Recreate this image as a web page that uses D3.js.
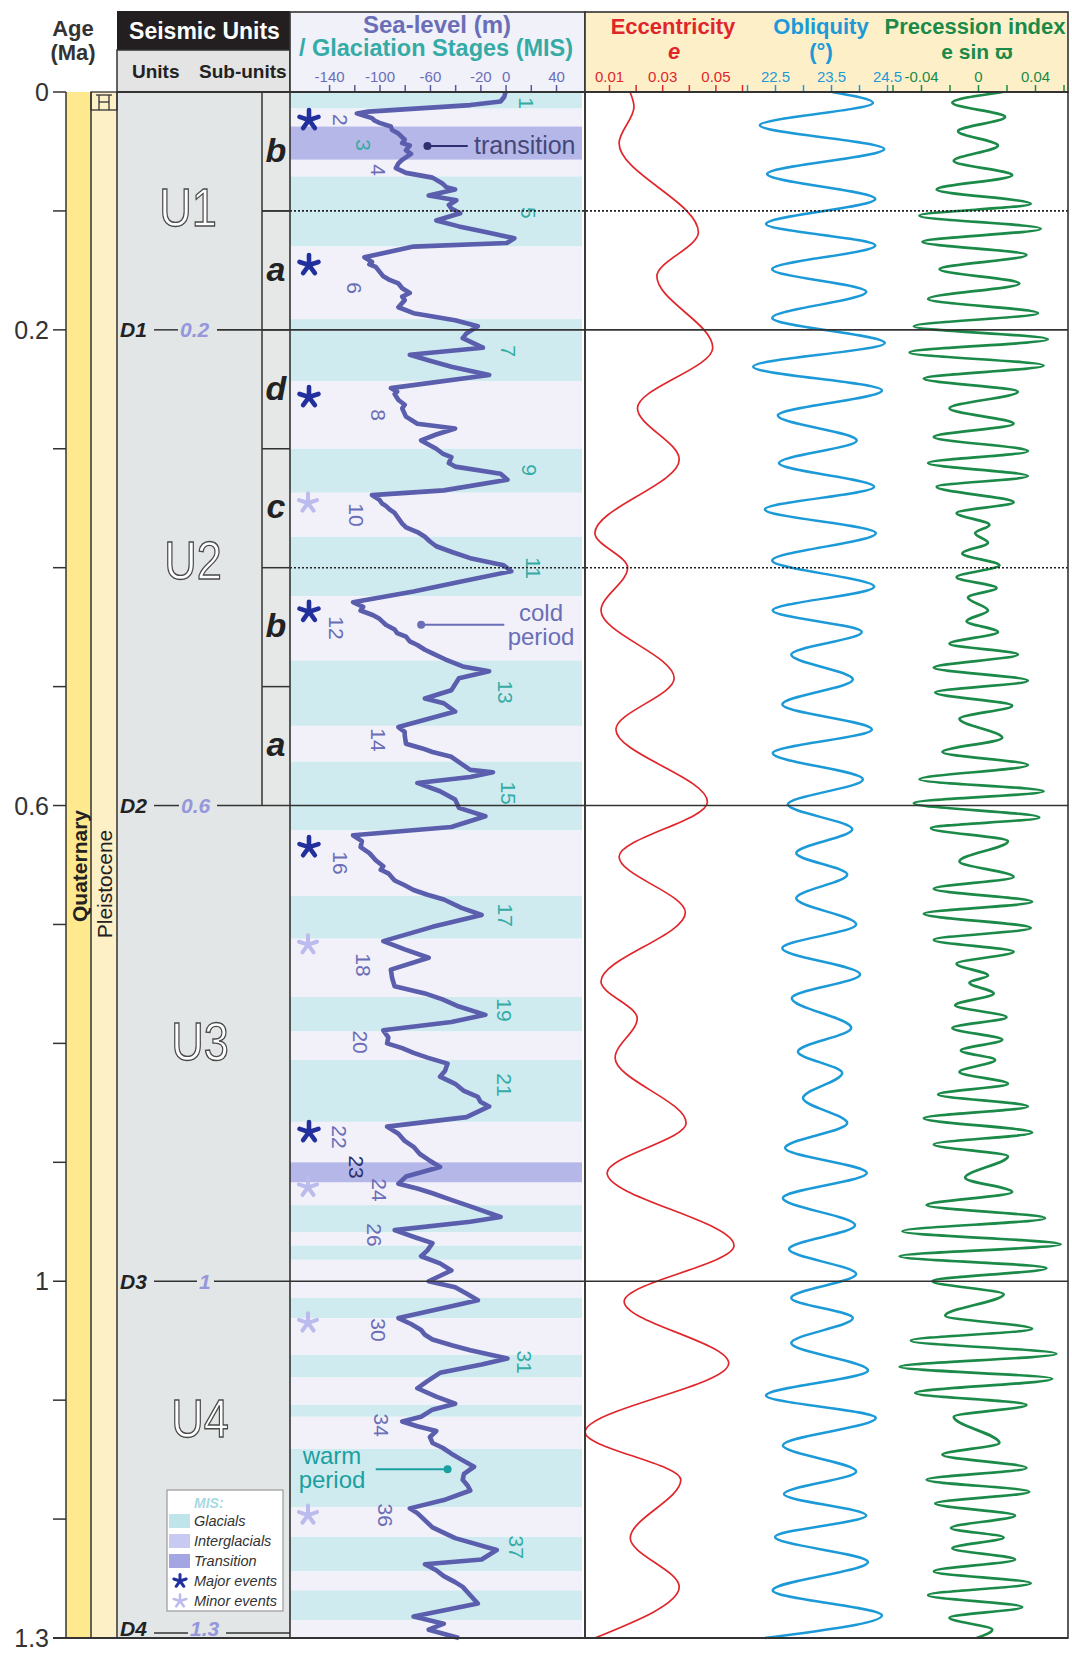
<!DOCTYPE html>
<html><head><meta charset="utf-8">
<script src="https://cdn.jsdelivr.net/npm/d3@7"></script>
<style>
body{margin:0;background:#fff}
svg text{font-family:"Liberation Sans",Arial,"DejaVu Sans",sans-serif}
</style></head>
<body><svg id="c" width="1072" height="1656"></svg>
<script>
// ---------------- DATA ----------------
const ageTicks = d3.range(0, 1.3001, 0.1);
const ageLabels = [0, 0.2, 0.6, 1, 1.3];
const units = ["U1", "U2", "U3", "U4"];
const unitTop = [0, 0.2, 0.6, 1.0];
const unitBase = [0.2, 0.6, 1.0, 1.3];
const subUnits = ["b", "a", "d", "c", "b", "a"];
const subTop = [0, 0.1, 0.2, 0.3, 0.4, 0.5];
const subBase = [0.1, 0.2, 0.3, 0.4, 0.5, 0.6];
const discNames = ["D1", "D2", "D3", "D4"];
const discAges = [0.2, 0.6, 1, 1.3];
const dottedAges = [0.1, 0.4];
// Marine isotope stages (start, ka)
const misStage = d3.range(1, 41);
const misStart = [0,14,29,57,71,130,191,243,300,337,374,424,478,533,563,621,676,712,761,790,814,866,900,917,936,959,970,982,1014,1031,1062,1081,1104,1114,1141,1190,1215,1244,1260,1285];
const misEndLast = 1300;
const transitionStages = [3, 23];
// MIS labels: [label, age (Ma), sea-level position (m)]
const misLabels = [["1",0.0093,17],["2",0.0235,-131],["3",0.0446,-113],["4",0.0656,-101],["5",0.1017,18.5],["6",0.1648,-120],["7",0.2178,2],["8",0.2716,-101],["9",0.3179,19],["10",0.3557,-118],["11",0.4003,22.5],["12",0.4507,-134],["13",0.5046,0],["14",0.5449,-101],["15",0.5895,2],["16",0.6483,-131],["17",0.6921,0],["18",0.7341,-113],["19",0.7719,-1],["20",0.7989,-115],["21",0.835,-1],["22",0.8787,-132],["23",0.904,-118],["24",0.9233,-100],["26",0.9611,-104],["30",1.041,-101],["31",1.068,15],["34",1.121,-98],["36",1.1967,-95],["37",1.2236,9]];
const majorEvents = [0.0235, 0.1455, 0.2565, 0.437, 0.635, 0.8745];
const minorEvents = [0.3456, 0.717, 0.921, 1.035, 1.1966];
// Sea level curve [age Ma, m]
const seaLevelCurve = [[0,0],[0.004,-1],[0.008,-4],[0.011,-28],[0.0165,-109],[0.018,-118],[0.020,-112],[0.022,-106],[0.024,-104],[0.026,-100],[0.029,-91],[0.032,-90],[0.035,-85],[0.040,-80],[0.043,-82],[0.045,-76],[0.049,-79],[0.052,-75],[0.057,-82],[0.060,-85],[0.064,-87],[0.068,-79],[0.072,-58],[0.077,-50],[0.080,-47],[0.082,-40],[0.087,-61],[0.091,-39],[0.095,-45],[0.098,-43],[0.102,-36],[0.108,-55],[0.113,-37],[0.118,-15],[0.123,7],[0.127,1],[0.130,-73],[0.139,-112],[0.143,-106],[0.145,-108],[0.147,-103],[0.151,-100],[0.155,-97],[0.158,-92],[0.161,-85],[0.165,-82],[0.169,-76],[0.172,-82],[0.175,-80],[0.181,-85],[0.186,-73],[0.192,-40],[0.197,-22],[0.203,-31],[0.207,-34],[0.215,-18],[0.221,-76],[0.226,-60],[0.231,-43],[0.238,-13],[0.249,-91],[0.252,-86],[0.254,-88],[0.259,-85],[0.263,-80],[0.266,-82],[0.273,-79],[0.279,-70],[0.283,-40],[0.288,-55],[0.293,-67],[0.300,-55],[0.304,-50],[0.307,-43],[0.312,-45],[0.315,-40],[0.321,-4],[0.326,1.5],[0.335,-49],[0.339,-106],[0.343,-100],[0.346,-98],[0.348,-95],[0.351,-92],[0.354,-88],[0.360,-84],[0.363,-82],[0.366,-79],[0.370,-70],[0.374,-64],[0.378,-60],[0.382,-55],[0.387,-42],[0.392,-28],[0.398,-1.5],[0.403,4.5],[0.412,-37],[0.420,-73],[0.429,-121],[0.433,-113],[0.436,-115],[0.440,-105],[0.443,-100],[0.446,-97],[0.448,-95],[0.452,-88],[0.455,-86],[0.458,-79],[0.462,-76],[0.465,-70],[0.469,-64],[0.472,-58],[0.477,-48],[0.483,-34],[0.487,-13],[0.493,-37],[0.498,-40],[0.503,-43],[0.510,-64],[0.514,-49],[0.521,-40],[0.534,-85],[0.538,-80],[0.541,-80],[0.548,-79],[0.552,-66],[0.555,-58],[0.559,-43],[0.565,-35],[0.570,-28],[0.572,-10],[0.576,-28],[0.581,-70],[0.588,-52],[0.595,-40],[0.602,-37],[0.609,-16],[0.618,-43],[0.625,-121],[0.630,-114],[0.635,-115],[0.640,-108],[0.646,-103],[0.651,-97],[0.654,-99],[0.657,-93],[0.663,-88],[0.667,-80],[0.671,-73],[0.675,-62],[0.679,-49],[0.686,-35],[0.692,-19],[0.702,-58],[0.714,-97],[0.721,-80],[0.728,-61],[0.738,-91],[0.745,-90],[0.752,-88],[0.758,-64],[0.763,-50],[0.769,-37],[0.776,-16],[0.782,-43],[0.789,-97],[0.795,-93],[0.800,-94],[0.804,-82],[0.808,-73],[0.812,-62],[0.817,-46],[0.823,-48],[0.828,-52],[0.834,-40],[0.840,-33],[0.845,-22],[0.849,-20],[0.853,-13],[0.862,-31],[0.870,-94],[0.876,-85],[0.882,-80],[0.887,-73],[0.893,-68],[0.898,-61],[0.904,-52],[0.912,-79],[0.918,-85],[0.922,-70],[0.926,-58],[0.932,-42],[0.937,-28],[0.946,-4],[0.950,-28],[0.957,-88],[0.963,-72],[0.968,-58],[0.974,-62],[0.979,-67],[0.985,-52],[0.991,-43],[1.000,-61],[1.005,-40],[1.011,-30],[1.016,-22],[1.021,-43],[1.031,-85],[1.036,-75],[1.041,-67],[1.045,-64],[1.049,-58],[1.054,-42],[1.058,-28],[1.065,1.5],[1.070,-19],[1.077,-52],[1.084,-62],[1.090,-70],[1.097,-55],[1.103,-40],[1.108,-58],[1.114,-67],[1.118,-82],[1.122,-70],[1.126,-55],[1.131,-60],[1.136,-58],[1.140,-50],[1.145,-43],[1.150,-35],[1.156,-25],[1.162,-33],[1.167,-34],[1.172,-30],[1.176,-28],[1.184,-49],[1.191,-76],[1.195,-70],[1.198,-67],[1.203,-62],[1.207,-58],[1.212,-48],[1.216,-40],[1.226,-7],[1.234,-19],[1.238,-64],[1.243,-55],[1.248,-49],[1.253,-40],[1.257,-34],[1.264,-28],[1.271,-22],[1.282,-73],[1.288,-49],[1.293,-61],[1.300,-37]];
// Orbital parameters [age Ma, value]
const eccentricity = [[0,0.0179],[0.0125,0.0194],[0.043,0.0138],[0.118,0.0436],[0.155,0.028],[0.215,0.049],[0.266,0.0207],[0.309,0.0364],[0.371,0.0047],[0.400,0.017],[0.436,0.007],[0.493,0.0345],[0.536,0.0126],[0.597,0.047],[0.643,0.0138],[0.690,0.0387],[0.748,0.007],[0.779,0.0206],[0.812,0.0123],[0.867,0.039],[0.909,0.0093],[0.970,0.057],[1.017,0.0157],[1.069,0.055],[1.127,0.001],[1.167,0.037],[1.216,0.018],[1.257,0.0364],[1.300,0.0047]];
const obliquity = [[0,23.52],[0.009,24.25],[0.028,22.23],[0.048,24.45],[0.069,22.36],[0.090,24.29],[0.111,22.34],[0.129,24.29],[0.149,22.45],[0.168,24.13],[0.190,22.45],[0.211,24.46],[0.231,22.11],[0.251,24.41],[0.272,22.55],[0.293,23.96],[0.312,22.57],[0.332,24.27],[0.351,22.32],[0.371,24.30],[0.394,22.45],[0.416,24.27],[0.436,22.46],[0.454,24.05],[0.473,22.79],[0.494,23.89],[0.515,22.63],[0.536,24.23],[0.556,22.46],[0.578,24.07],[0.599,22.73],[0.620,23.88],[0.640,22.88],[0.658,23.79],[0.678,22.88],[0.700,23.95],[0.720,22.63],[0.742,24.02],[0.762,22.80],[0.787,23.86],[0.807,22.91],[0.825,23.70],[0.846,23.00],[0.867,23.79],[0.888,22.68],[0.909,24.14],[0.930,22.64],[0.953,23.93],[0.973,22.75],[0.994,23.95],[1.014,22.79],[1.031,23.89],[1.052,22.79],[1.075,24.16],[1.096,22.34],[1.115,24.30],[1.138,22.64],[1.160,23.95],[1.179,22.66],[1.197,24.13],[1.215,22.50],[1.236,24.16],[1.260,22.46],[1.281,24.41],[1.300,22.32]];
const precession = [[0,0.0175],[0.009,-0.018],[0.021,0.019],[0.033,-0.014],[0.045,0.014],[0.058,-0.017],[0.070,0.024],[0.082,-0.029],[0.094,0.037],[0.104,-0.041],[0.115,0.044],[0.126,-0.039],[0.137,0.034],[0.149,-0.027],[0.161,0.029],[0.174,-0.035],[0.186,0.042],[0.197,-0.045],[0.208,0.049],[0.219,-0.048],[0.230,0.046],[0.241,-0.038],[0.252,0.028],[0.266,-0.020],[0.279,0.025],[0.290,-0.031],[0.302,0.035],[0.312,-0.035],[0.323,0.035],[0.332,-0.029],[0.345,0.025],[0.354,-0.015],[0.364,0.008],[0.371,-0.002],[0.379,0.007],[0.388,-0.011],[0.398,0.015],[0.408,-0.015],[0.417,0.013],[0.425,-0.007],[0.436,0.007],[0.445,-0.008],[0.454,0.014],[0.464,-0.020],[0.473,0.028],[0.484,-0.031],[0.495,0.035],[0.505,-0.030],[0.516,0.024],[0.527,-0.013],[0.543,0.017],[0.555,-0.025],[0.566,0.035],[0.578,-0.041],[0.588,0.046],[0.598,-0.045],[0.610,0.043],[0.619,-0.033],[0.630,0.021],[0.647,-0.013],[0.660,0.025],[0.670,-0.031],[0.681,0.038],[0.691,-0.038],[0.703,0.037],[0.713,-0.031],[0.723,0.025],[0.733,-0.015],[0.743,0.007],[0.749,-0.006],[0.758,0.011],[0.768,-0.016],[0.778,0.020],[0.787,-0.018],[0.797,0.017],[0.806,-0.012],[0.814,0.012],[0.824,-0.013],[0.834,0.021],[0.843,-0.028],[0.853,0.035],[0.863,-0.038],[0.875,0.038],[0.885,-0.031],[0.895,0.021],[0.913,-0.009],[0.925,0.024],[0.936,-0.036],[0.947,0.047],[0.958,-0.053],[0.969,0.058],[0.979,-0.055],[0.989,0.048],[1.000,-0.032],[1.011,0.018],[1.029,-0.023],[1.040,0.038],[1.050,-0.047],[1.061,0.055],[1.072,-0.055],[1.082,0.052],[1.094,-0.044],[1.104,0.034],[1.114,-0.017],[1.136,0.015],[1.146,-0.025],[1.157,0.034],[1.167,-0.036],[1.177,0.036],[1.187,-0.030],[1.197,0.026],[1.2075,-0.019],[1.2155,0.018],[1.2245,-0.018],[1.234,0.026],[1.244,-0.031],[1.254,0.037],[1.264,-0.035],[1.274,0.031],[1.283,-0.020],[1.293,0.010],[1.300,-0.001]];
const seaTicks = d3.range(-140, 41, 20);
const seaTickLabels = [-140, -100, -60, -20, 0, 40];
const eccTicks = [0.01,0.02,0.03,0.04,0.05,0.06];
const eccTickLabels = [0.01, 0.03, 0.05];
const oblTicks = [22,22.5,23,23.5,24,24.5];
const oblTickLabels = [22.5, 23.5, 24.5];
const preTicks = [-0.06,-0.04,-0.02,0,0.02,0.04,0.06];
const preTickLabels = [-0.04, 0, 0.04];
const legendItems = ["Glacials", "Interglacials", "Transition", "Major events", "Minor events"];

// ---------------- COLORS ----------------
const C = {
  yellow:"#FFE98F", cream:"#FDEFC6", unitGrey:"#E3E6E7", subGrey:"#E6E7E7",
  glacial:"#CFEBEF", inter:"#F2F1FA", trans:"#B5B7E8",
  slate:"#6A6EB6", teal:"#35ABA6", seaLine:"#5A5EAD",
  red:"#E0262B", blue:"#1C9AD8", green:"#1B8A48",
  major:"#22309E", minor:"#BBBBEE", line:"#333"
};

// ---------------- SCALES ----------------
const svg = d3.select("#c");
const TOP = 92, BOT = 1638;
const y = d3.scaleLinear().domain([0, 1.3]).range([TOP, BOT]);
const X = {ageR:66, yL:66, yR:91, pR:117, uR:262, sL:290, sR:585, oR:1068};
const xSea = d3.scaleLinear().domain([-171, 63]).range([X.sL, X.sR]);
const xEcc = d3.scaleLinear().domain([0.01, 0.06]).range([609, 742]);
const xObl = d3.scaleLinear().domain([22.5, 24.5]).range([775, 887]);
const xPre = d3.scaleLinear().domain([-0.04, 0.04]).range([921, 1035]);

// ---------------- LEFT COLUMNS ----------------
svg.append("rect").attr("x",X.yL).attr("y",TOP).attr("width",X.yR-X.yL).attr("height",BOT-TOP).attr("fill",C.yellow);
svg.append("rect").attr("x",X.yR).attr("y",TOP).attr("width",X.pR-X.yR).attr("height",BOT-TOP).attr("fill",C.cream);
svg.append("rect").attr("x",X.pR).attr("y",TOP).attr("width",X.sL-X.pR).attr("height",BOT-TOP).attr("fill",C.unitGrey);
svg.append("rect").attr("x",X.uR).attr("y",TOP).attr("width",X.sL-X.uR).attr("height",y(0.6)-TOP).attr("fill",C.subGrey);
[X.yL, X.yR, X.pR].forEach(x=>svg.append("line").attr("x1",x).attr("x2",x).attr("y1",TOP).attr("y2",BOT).attr("stroke",C.line).attr("stroke-width",1.5));
svg.append("line").attr("x1",X.uR).attr("x2",X.uR).attr("y1",TOP).attr("y2",y(0.6)).attr("stroke",C.line).attr("stroke-width",1.5);
// Holocene box
const hb = svg.append("g").attr("stroke",C.line).attr("stroke-width",1.3).attr("fill","none");
hb.append("rect").attr("x",X.yR).attr("y",TOP).attr("width",X.pR-X.yR).attr("height",18);
hb.append("line").attr("x1",99).attr("x2",99).attr("y1",TOP+3).attr("y2",TOP+18);
hb.append("line").attr("x1",109).attr("x2",109).attr("y1",TOP+3).attr("y2",TOP+18);
hb.append("line").attr("x1",99).attr("x2",109).attr("y1",TOP+10).attr("y2",TOP+10);
hb.append("line").attr("x1",96).attr("x2",112).attr("y1",TOP+3).attr("y2",TOP+3);

// Age axis
ageTicks.forEach(a=>svg.append("line").attr("x1",53).attr("x2",X.ageR).attr("y1",y(a)).attr("y2",y(a)).attr("stroke",C.line).attr("stroke-width",1.5));
ageLabels.forEach(a=>svg.append("text").attr("x",49).attr("y",y(a)).attr("dy","0.36em").attr("text-anchor","end").attr("font-size",25).attr("fill","#333").text(a));

svg.append("text").attr("transform",`translate(87,866) rotate(-90)`).attr("text-anchor","middle").attr("font-size",21).attr("font-weight","bold").attr("fill","#222").text("Quaternary");
svg.append("text").attr("transform",`translate(112,884) rotate(-90)`).attr("text-anchor","middle").attr("font-size",21).attr("fill","#222").text("Pleistocene");

// Units
const unitCx = [188, 193, 200, 200];
const unitCy = [207, 560, 1041, 1418];
units.forEach((u,i)=>{
  svg.append("text").attr("transform",`translate(${unitCx[i]},${unitCy[i]}) scale(0.85,1)`)
    .attr("text-anchor","middle").attr("dy","0.36em").attr("font-size",53)
    .attr("fill","#fff").attr("stroke","#4a4a4a").attr("stroke-width",1.4).text(u);
});
// Sub-units
subUnits.forEach((s,i)=>{
  svg.append("text").attr("x",276).attr("y",(y(subTop[i])+y(subBase[i]))/2).attr("dy","0.3em")
    .attr("text-anchor","middle").attr("font-size",34).attr("font-weight","bold").attr("font-style","italic").attr("fill","#222").text(s);
  if (i>0) svg.append("line").attr("x1",X.uR).attr("x2",X.sL).attr("y1",y(subTop[i])).attr("y2",y(subTop[i])).attr("stroke",C.line).attr("stroke-width",1.5);
});

// ---------------- SEA-LEVEL PANEL ----------------
misStage.forEach((s,i)=>{
  const a0 = misStart[i]/1000, a1 = (i+1<misStart.length?misStart[i+1]:misEndLast)/1000;
  const col = transitionStages.includes(s) ? C.trans : (s%2 ? C.glacial : C.inter);
  svg.append("rect").attr("x",X.sL).attr("y",y(a0)).attr("width",X.sR-X.sL-3).attr("height",y(a1)-y(a0)).attr("fill",col);
});

// MIS labels
misLabels.forEach(([t,a,v])=>{
  const n = +t;
  const col = n===23 ? "#2E3070" : (n%2 ? C.teal : C.slate);
  svg.append("text").attr("transform",`translate(${xSea(v)},${y(a)}) rotate(90)`)
    .attr("text-anchor","middle").attr("dy","0.36em").attr("font-size",21).attr("fill",col).text(t);
});

// asterisk symbol
function star(g, cx, cy, r, col, w){
  const angs = [-90, -18, 54, 126, 198];
  angs.forEach(d=>{
    const rad = d*Math.PI/180;
    g.append("line").attr("x1",cx).attr("y1",cy).attr("x2",cx+r*Math.cos(rad)).attr("y2",cy+r*Math.sin(rad))
      .attr("stroke",col).attr("stroke-width",w).attr("stroke-linecap","round");
  });
}
majorEvents.forEach(a=>star(svg, 309, y(a), 10, C.major, 4.6));
minorEvents.forEach(a=>star(svg, 308, y(a), 9.5, C.minor, 4));

// sea-level curve
svg.append("path").datum(seaLevelCurve)
  .attr("d", d3.line().x(d=>xSea(d[1])).y(d=>y(d[0])).curve(d3.curveLinear))
  .attr("fill","none").attr("stroke",C.seaLine).attr("stroke-width",4.6).attr("stroke-linejoin","round");

// annotations
// transition
svg.append("line").attr("x1",xSea(-62)).attr("x2",xSea(-30)).attr("y1",y(0.0454)).attr("y2",y(0.0454)).attr("stroke","#2E3070").attr("stroke-width",2);
svg.append("circle").attr("cx",xSea(-62)).attr("cy",y(0.0454)).attr("r",4).attr("fill","#2E3070");
svg.append("text").attr("x",xSea(-25)).attr("y",y(0.0454)).attr("dy","0.33em").attr("font-size",25).attr("fill","#444878").text("transition");
// cold period
svg.append("line").attr("x1",xSea(-67)).attr("x2",xSea(-1)).attr("y1",y(0.448)).attr("y2",y(0.448)).attr("stroke",C.slate).attr("stroke-width",2);
svg.append("circle").attr("cx",xSea(-67)).attr("cy",y(0.448)).attr("r",4).attr("fill",C.slate);
const ct = svg.append("text").attr("text-anchor","middle").attr("font-size",24).attr("fill",C.slate);
ct.append("tspan").attr("x",541).attr("y",621).text("cold");
ct.append("tspan").attr("x",541).attr("y",645).text("period");
// warm period
svg.append("line").attr("x1",xSea(-103)).attr("x2",xSea(-46)).attr("y1",y(1.158)).attr("y2",y(1.158)).attr("stroke","#1AA0A0").attr("stroke-width",2);
svg.append("circle").attr("cx",xSea(-46)).attr("cy",y(1.158)).attr("r",4).attr("fill","#1AA0A0");
const wt = svg.append("text").attr("text-anchor","middle").attr("font-size",24).attr("fill","#1AA0A0");
wt.append("tspan").attr("x",332).attr("y",1464).text("warm");
wt.append("tspan").attr("x",332).attr("y",1488).text("period");

// ---------------- ORBITAL CURVES ----------------
const orb = [[eccentricity,xEcc,C.red,1.7],[obliquity,xObl,C.blue,2.5],[precession,xPre,C.green,2.7]];
orb.forEach(([data,xs,col,w])=>{
  svg.append("path").datum(data)
    .attr("d", d3.line().x(d=>xs(d[1])).y(d=>y(d[0])).curve(d3.curveMonotoneY))
    .attr("fill","none").attr("stroke",col).attr("stroke-width",w);
});

// ---------------- HORIZONTAL LINES ----------------
dottedAges.forEach(a=>svg.append("line").attr("x1",X.sL).attr("x2",X.oR).attr("y1",y(a)).attr("y2",y(a))
  .attr("stroke","#222").attr("stroke-width",1.6).attr("stroke-dasharray","2,2"));
svg.append("line").attr("x1",X.uR).attr("x2",X.sL).attr("y1",y(0.1)).attr("y2",y(0.1)).attr("stroke",C.line).attr("stroke-width",1.5);

const dValX = [180, 181, 199, 190];
const dLineStart = [217, 217, 214, 226];
discNames.forEach((d,i)=>{
  const yy = y(discAges[i]);
  const last = i===3;
  const ty = last ? yy-2 : yy;
  const ly = last ? yy-5 : yy;
  svg.append("text").attr("x",120).attr("y",ty).attr("dy", last? "0em":"0.36em").attr("font-size",21).attr("font-weight","bold").attr("font-style","italic").attr("fill","#222").text(d);
  svg.append("line").attr("x1",154).attr("x2",dValX[i]-2).attr("y1",ly).attr("y2",ly).attr("stroke",C.line).attr("stroke-width",1.5);
  svg.append("text").attr("x",dValX[i]).attr("y",ty).attr("dy", last? "0em":"0.36em").attr("font-size",21).attr("font-weight","bold").attr("font-style","italic").attr("fill","#9597DB").text(discAges[i]);
  svg.append("line").attr("x1",dLineStart[i]).attr("x2", last? X.sL : X.oR).attr("y1",ly).attr("y2",ly).attr("stroke",C.line).attr("stroke-width",1.6);
});
// bottom line
svg.append("line").attr("x1",53).attr("x2",X.oR).attr("y1",BOT).attr("y2",BOT).attr("stroke",C.line).attr("stroke-width",1.8);

// panel borders
svg.append("rect").attr("x",X.sL).attr("y",TOP).attr("width",X.sR-X.sL).attr("height",BOT-TOP).attr("fill","none").attr("stroke",C.line).attr("stroke-width",1.6);
svg.append("rect").attr("x",X.sR).attr("y",TOP).attr("width",X.oR-X.sR).attr("height",BOT-TOP).attr("fill","none").attr("stroke",C.line).attr("stroke-width",1.6);

// ---------------- HEADERS ----------------
const at = svg.append("text").attr("text-anchor","middle").attr("font-size",22).attr("font-weight","bold").attr("fill","#333");
at.append("tspan").attr("x",73).attr("y",36).text("Age");
at.append("tspan").attr("x",73).attr("y",60).text("(Ma)");
svg.append("rect").attr("x",X.pR).attr("y",11).attr("width",X.sL-X.pR).attr("height",39).attr("fill","#231F20");
svg.append("text").attr("x",(X.pR+X.sL)/2+1).attr("y",39).attr("text-anchor","middle").attr("font-size",23).attr("font-weight","bold").attr("fill","#fff").text("Seismic Units");
svg.append("rect").attr("x",X.pR).attr("y",50).attr("width",X.sL-X.pR).attr("height",TOP-50).attr("fill","#E4E4E4").attr("stroke",C.line).attr("stroke-width",1.5);
svg.append("text").attr("x",132).attr("y",78).attr("font-size",19).attr("font-weight","bold").attr("fill","#222").text("Units");
svg.append("text").attr("x",199).attr("y",78).attr("font-size",19).attr("font-weight","bold").attr("fill","#222").text("Sub-units");

svg.append("rect").attr("x",X.sL).attr("y",12).attr("width",X.sR-X.sL).attr("height",TOP-12).attr("fill","#F1F1FA").attr("stroke",C.line).attr("stroke-width",1.6);
svg.append("text").attr("x",437).attr("y",33).attr("text-anchor","middle").attr("font-size",24).attr("font-weight","bold").attr("fill",C.slate).text("Sea-level (m)");
svg.append("text").attr("x",436).attr("y",56).attr("text-anchor","middle").attr("font-size",23.5).attr("font-weight","bold").attr("fill",C.teal).text("/ Glaciation Stages (MIS)");

svg.append("rect").attr("x",X.sR).attr("y",12).attr("width",X.oR-X.sR).attr("height",TOP-12).attr("fill","#FDF0C9").attr("stroke",C.line).attr("stroke-width",1.6);
svg.append("text").attr("x",673).attr("y",34).attr("text-anchor","middle").attr("font-size",22).attr("font-weight","bold").attr("fill",C.red).text("Eccentricity");
svg.append("text").attr("x",674).attr("y",59).attr("text-anchor","middle").attr("font-size",22).attr("font-weight","bold").attr("font-style","italic").attr("fill",C.red).text("e");
svg.append("text").attr("x",821).attr("y",34).attr("text-anchor","middle").attr("font-size",22).attr("font-weight","bold").attr("fill",C.blue).text("Obliquity");
svg.append("text").attr("x",821).attr("y",59).attr("text-anchor","middle").attr("font-size",22).attr("font-weight","bold").attr("fill",C.blue).text("(°)");
svg.append("text").attr("x",975).attr("y",34).attr("text-anchor","middle").attr("font-size",22).attr("font-weight","bold").attr("fill",C.green).text("Precession index");
svg.append("text").attr("x",977).attr("y",59).attr("text-anchor","middle").attr("font-size",21).attr("font-weight","bold").attr("fill",C.green).text("e sin ϖ");

// axes
function topAxis(scale, ticks, labels, col, tickCol, fmt){
  const g = svg.append("g").attr("transform",`translate(0,${TOP})`)
    .call(d3.axisTop(scale).tickValues(ticks).tickSize(7).tickPadding(3)
      .tickFormat(d=> labels.some(l=>Math.abs(l-d)<1e-9) ? fmt(d) : ""));
  g.select(".domain").remove();
  g.selectAll(".tick line").attr("stroke",tickCol).attr("stroke-width",1.5);
  g.selectAll(".tick text").attr("fill",col).attr("font-size",15).attr("font-family","'Liberation Sans',Arial,sans-serif");
}
topAxis(xSea, seaTicks, seaTickLabels, C.slate, "#555a9a", d=>String(d));
topAxis(xEcc, eccTicks, eccTickLabels, C.red, C.red, d=>d.toFixed(2));
topAxis(xObl, oblTicks, oblTickLabels, C.blue, C.blue, d=>d.toFixed(1));
topAxis(xPre, preTicks, preTickLabels, C.green, C.green, d=> d===0 ? "0" : d.toFixed(2));
svg.append("line").attr("x1",X.pR).attr("x2",X.oR).attr("y1",TOP).attr("y2",TOP).attr("stroke",C.line).attr("stroke-width",1.8);

// ---------------- LEGEND ----------------
const lg = svg.append("g");
lg.append("rect").attr("x",167).attr("y",1490).attr("width",116).attr("height",121).attr("fill","#fff").attr("stroke","#999").attr("stroke-width",1.2);
lg.append("text").attr("x",194).attr("y",1508).attr("font-size",14).attr("font-weight","bold").attr("font-style","italic").attr("fill","#A6DAE2").text("MIS:");
const swCols = ["#BFE4EA", "#C9CAF1", "#A3A6E2"];
legendItems.forEach((t,i)=>{
  const cy = 1521 + i*20;
  if (i<3) lg.append("rect").attr("x",169).attr("y",cy-7).attr("width",21).attr("height",14).attr("fill",swCols[i]);
  else if (i===3) star(lg, 180, cy, 6.5, C.major, 3);
  else star(lg, 180, cy, 6.5, C.minor, 2.6);
  lg.append("text").attr("x",194).attr("y",cy).attr("dy","0.35em").attr("font-size",14.5).attr("font-style","italic").attr("fill","#333").text(t);
});
</script>
</body></html>
